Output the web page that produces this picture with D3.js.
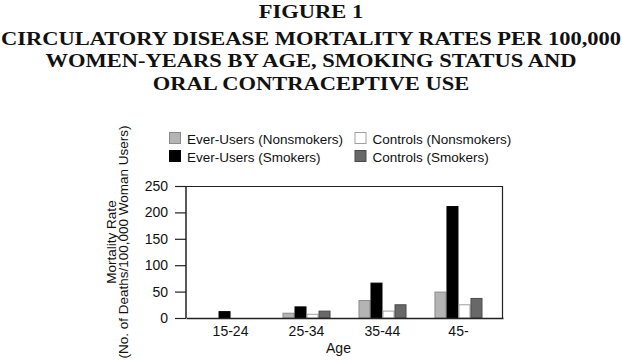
<!DOCTYPE html>
<html>
<head>
<meta charset="utf-8">
<script src="https://cdn.jsdelivr.net/npm/d3@7"></script>
<style>
  body { margin: 0; background: #fff; }
  text { font-family: "Liberation Sans", Arial, sans-serif; fill: #111; }
  .title { font-family: "Liberation Serif", "Times New Roman", serif; font-weight: bold; font-size: 19.5px; }
</style>
</head>
<body>
<div id="container"></div>
<script>
var width = 622,
    height = 361,
    margin = { left: 186, top: 186, right: 119, bottom: 43 },
    g_width = width - margin.left - margin.right,
    g_height = height - margin.top - margin.bottom;

var titleLines = ["FIGURE 1",
                  "CIRCULATORY DISEASE MORTALITY RATES PER 100,000",
                  "WOMEN-YEARS BY AGE, SMOKING STATUS AND",
                  "ORAL CONTRACEPTIVE USE"];
var titleY = [18, 44.5, 67, 89.5];

var ages = ["15-24", "25-34", "35-44", "45-"];
var series = ["Ever-Users (Nonsmokers)", "Ever-Users (Smokers)", "Controls (Nonsmokers)", "Controls (Smokers)"];
var everNonsmokers = [0, 10, 34, 50];
var everSmokers = [13, 22, 67, 212];
var controlNonsmokers = [0, 8, 14, 26];
var controlSmokers = [0, 14, 26, 38];
var yTicks = [0, 50, 100, 150, 200, 250];

var fills = ["#b4b4b4", "#000000", "#ffffff", "#686868"];
var strokes = ["#8a8a8a", "#000000", "#a0a0a0", "#4a4a4a"];

var values = [everNonsmokers, everSmokers, controlNonsmokers, controlSmokers];
var rows = ages.map(function(a, i) {
  return { age: a, vals: values.map(function(v, s) { return { s: s, v: v[i] }; }) };
});

var svg = d3.select("#container")
            .append("svg")
            .attr("width", width)
            .attr("height", height);

// title, serif bold stretched a bit wider like the scan
svg.selectAll(".title")
   .data(titleLines)
   .enter().append("text")
   .attr("class", "title")
   .attr("transform", function(d, i) { return "translate(" + (width / 2) + "," + titleY[i] + ") scale(1.155,1)"; })
   .attr("text-anchor", "middle")
   .text(function(d) { return d; });

var g = svg.append("g")
           .attr("transform", "translate(" + margin.left + "," + margin.top + ")");

var scale_x = d3.scaleBand()
                .domain(ages)
                .range([0, g_width])
                .paddingInner(0.368)
                .paddingOuter(0.27);

var scale_sub = d3.scaleBand()
                  .domain(d3.range(series.length))
                  .range([0, scale_x.bandwidth()]);

var scale_y = d3.scaleLinear()
                .domain([0, 250])
                .range([g_height, 0]);

// bars
var groups = g.selectAll(".grp")
              .data(rows)
              .enter().append("g")
              .attr("transform", function(d) { return "translate(" + scale_x(d.age) + ",0)"; });

groups.selectAll("rect")
      .data(function(d) { return d.vals.filter(function(e) { return e.v > 0; }); })
      .enter().append("rect")
      .attr("x", function(d) { return scale_sub(d.s) + 0.5; })
      .attr("y", function(d) { return scale_y(d.v) + 0.5; })
      .attr("width", scale_sub.bandwidth() - 1)
      .attr("height", function(d) { return g_height - scale_y(d.v) - 0.5; })
      .attr("fill", function(d) { return fills[d.s]; })
      .attr("stroke", function(d) { return strokes[d.s]; })
      .attr("stroke-width", 1);

// frame (top and right)
g.append("path")
 .attr("d", "M0,0.5H" + (g_width - 0.5) + "V" + g_height)
 .attr("fill", "none")
 .attr("stroke", "#222")
 .attr("stroke-width", 1.2);

// axes
var x_axis = d3.axisBottom(scale_x).tickSize(0).tickPadding(8),
    y_axis = d3.axisLeft(scale_y).tickValues(yTicks).tickSize(11).tickPadding(7);

var gx = g.append("g")
          .attr("transform", "translate(0," + g_height + ")")
          .call(x_axis);
gx.select(".domain").attr("stroke", "#222").attr("stroke-width", 1.5);
gx.selectAll("text").attr("font-size", 14).attr("font-family", null).attr("fill", "#111");

var gy = g.append("g").call(y_axis);
gy.select(".domain").attr("d", "M0," + g_height + "V0").attr("stroke", "#222").attr("stroke-width", 1.5);
gy.selectAll(".tick line").attr("stroke", "#222").attr("stroke-width", 1.2);
gy.selectAll("text").attr("font-size", 14).attr("font-family", null).attr("fill", "#111");

// axis titles
g.append("text")
 .attr("x", g_width / 2 - 6)
 .attr("y", g_height + 35)
 .attr("text-anchor", "middle")
 .attr("font-size", 14)
 .text("Age");

var ylab = g.append("text")
            .attr("transform", "translate(-70," + (g_height / 2 - 10) + ") rotate(-90)")
            .attr("text-anchor", "middle")
            .attr("font-size", 13.5);
ylab.append("tspan").attr("x", 0).attr("dy", 0).text("Mortality Rate");
ylab.append("tspan").attr("x", 0).attr("dy", 12).text("(No. of Deaths/100,000 Woman Users)");

// legend
var legendCols = [169, 354.5],
    legendRows = [132, 150];
var legendOrder = [0, 2, 1, 3];

var legend = svg.selectAll(".legend")
                .data(legendOrder)
                .enter().append("g")
                .attr("transform", function(d, i) {
                  return "translate(" + legendCols[i % 2] + "," + legendRows[Math.floor(i / 2)] + ")";
                });

legend.append("rect")
      .attr("x", 0.5).attr("y", 0.5)
      .attr("width", 11).attr("height", 11)
      .attr("fill", function(d) { return fills[d]; })
      .attr("stroke", function(d) { return strokes[d]; });

legend.append("text")
      .attr("x", 18)
      .attr("y", 11.5)
      .attr("font-size", 13.5)
      .text(function(d) { return series[d]; });
</script>
</body>
</html>
